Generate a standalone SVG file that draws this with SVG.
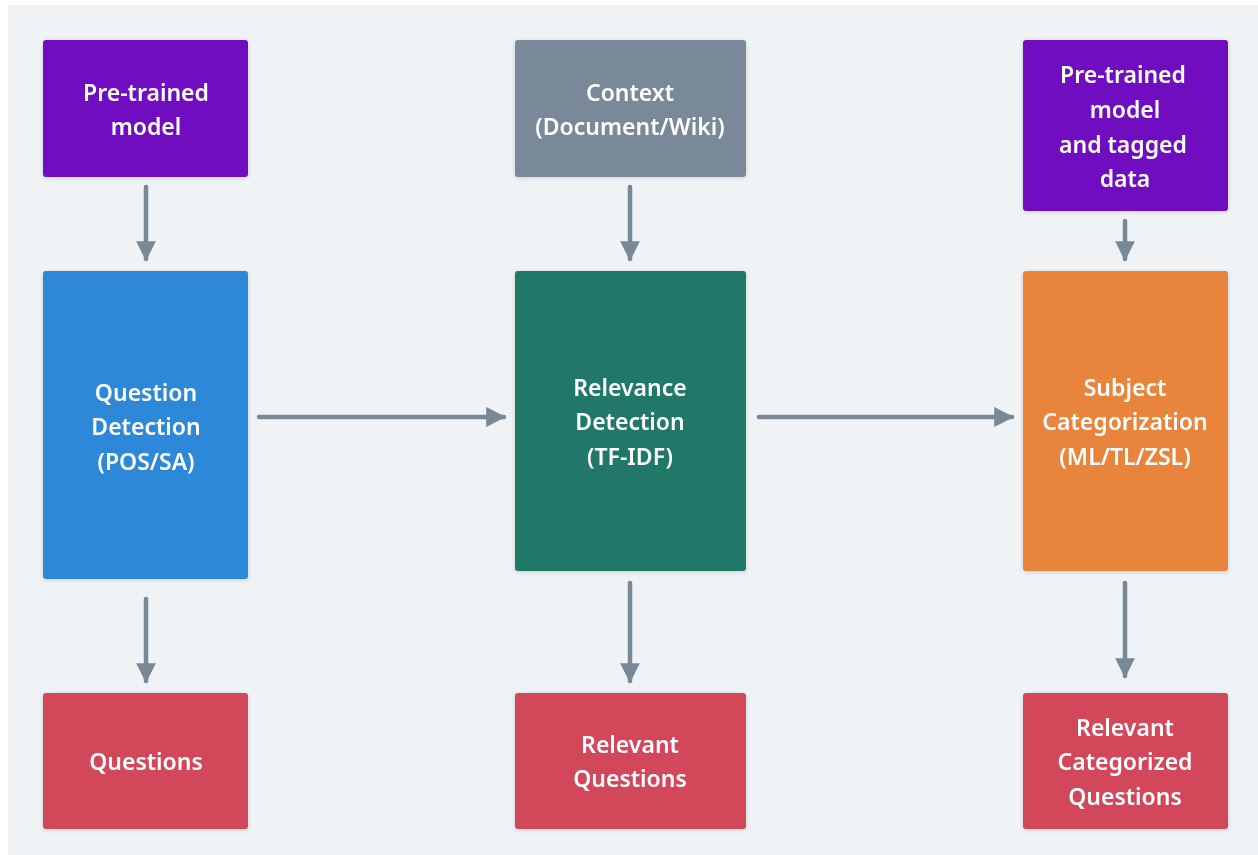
<svg xmlns="http://www.w3.org/2000/svg" width="1258" height="855" viewBox="0 0 1258 855">
<defs>
<filter id="sh" x="-10%" y="-10%" width="120%" height="120%">
<feDropShadow dx="0" dy="1" stdDeviation="2" flood-color="#000" flood-opacity="0.15"/>
</filter>
<marker id="ah" viewBox="0 0 10 10" refX="9" refY="5" markerWidth="4.4" markerHeight="4.4" orient="auto" markerUnits="strokeWidth">
<path d="M0,0 L10,5 L0,10 Z" fill="#798896"/>
</marker>
<style>
.n{filter:url(#sh)}
.t{font-family:"Noto Sans","Open Sans",sans-serif;font-weight:600;font-size:23px;fill:#fff;text-anchor:middle}
.c{stroke:#798896;stroke-width:4.5;stroke-linecap:round;fill:none;marker-end:url(#ah)}
</style>
</defs>
<rect x="0" y="0" width="1258" height="855" fill="#ffffff"/>
<rect x="8" y="5" width="1250" height="850" fill="#eff3f6"/>
<g id="connectors">
<line class="c" x1="146" y1="187" x2="146" y2="259"/>
<line class="c" x1="630" y1="187" x2="630" y2="259"/>
<line class="c" x1="1125" y1="221" x2="1125" y2="259"/>
<line class="c" x1="259" y1="417" x2="504" y2="417"/>
<line class="c" x1="759" y1="417" x2="1012" y2="417"/>
<line class="c" x1="146" y1="599" x2="146" y2="681"/>
<line class="c" x1="630" y1="583" x2="630" y2="681"/>
<line class="c" x1="1125" y1="583" x2="1125" y2="676"/>
</g>
<g id="pretrained1" class="n">
<rect x="43" y="40" width="205" height="137" rx="3" fill="#7110c0"/>
<text class="t" x="146" y="101">Pre-trained</text>
<text class="t" x="146" y="135">model</text>
</g>
<g id="context" class="n">
<rect x="515" y="40" width="231" height="137" rx="3" fill="#7a8999"/>
<text class="t" x="630" y="101">Context</text>
<text class="t" x="630" y="135">(Document/Wiki)</text>
</g>
<g id="pretrained2" class="n">
<rect x="1023" y="40" width="205" height="171" rx="3" fill="#7110c0"/>
<text class="t" x="1123" y="83">Pre-trained</text>
<text class="t" x="1125" y="118">model</text>
<text class="t" x="1123" y="153">and tagged</text>
<text class="t" x="1125" y="187">data</text>
</g>
<g id="questiondetection" class="n">
<rect x="43" y="271" width="205" height="308" rx="3" fill="#2d88d9"/>
<text class="t" x="146" y="401">Question</text>
<text class="t" x="146" y="435">Detection</text>
<text class="t" x="146" y="470">(POS/SA)</text>
</g>
<g id="relevancedetection" class="n">
<rect x="515" y="271" width="231" height="300" rx="3" fill="#207868"/>
<text class="t" x="630" y="396">Relevance</text>
<text class="t" x="630" y="430">Detection</text>
<text class="t" x="630" y="465">(TF-IDF)</text>
</g>
<g id="subjectcategorization" class="n">
<rect x="1023" y="271" width="205" height="300" rx="3" fill="#e8843a"/>
<text class="t" x="1125" y="396">Subject</text>
<text class="t" x="1125" y="430">Categorization</text>
<text class="t" x="1125" y="465">(ML/TL/ZSL)</text>
</g>
<g id="questions" class="n">
<rect x="43" y="693" width="205" height="136" rx="3" fill="#d3465a"/>
<text class="t" x="146" y="770">Questions</text>
</g>
<g id="relevantquestions" class="n">
<rect x="515" y="693" width="231" height="136" rx="3" fill="#d3465a"/>
<text class="t" x="630" y="753">Relevant</text>
<text class="t" x="630" y="787">Questions</text>
</g>
<g id="relevantcategorized" class="n">
<rect x="1023" y="693" width="205" height="136" rx="3" fill="#d3465a"/>
<text class="t" x="1125" y="736">Relevant</text>
<text class="t" x="1125" y="770">Categorized</text>
<text class="t" x="1125" y="805">Questions</text>
</g>
</svg>
